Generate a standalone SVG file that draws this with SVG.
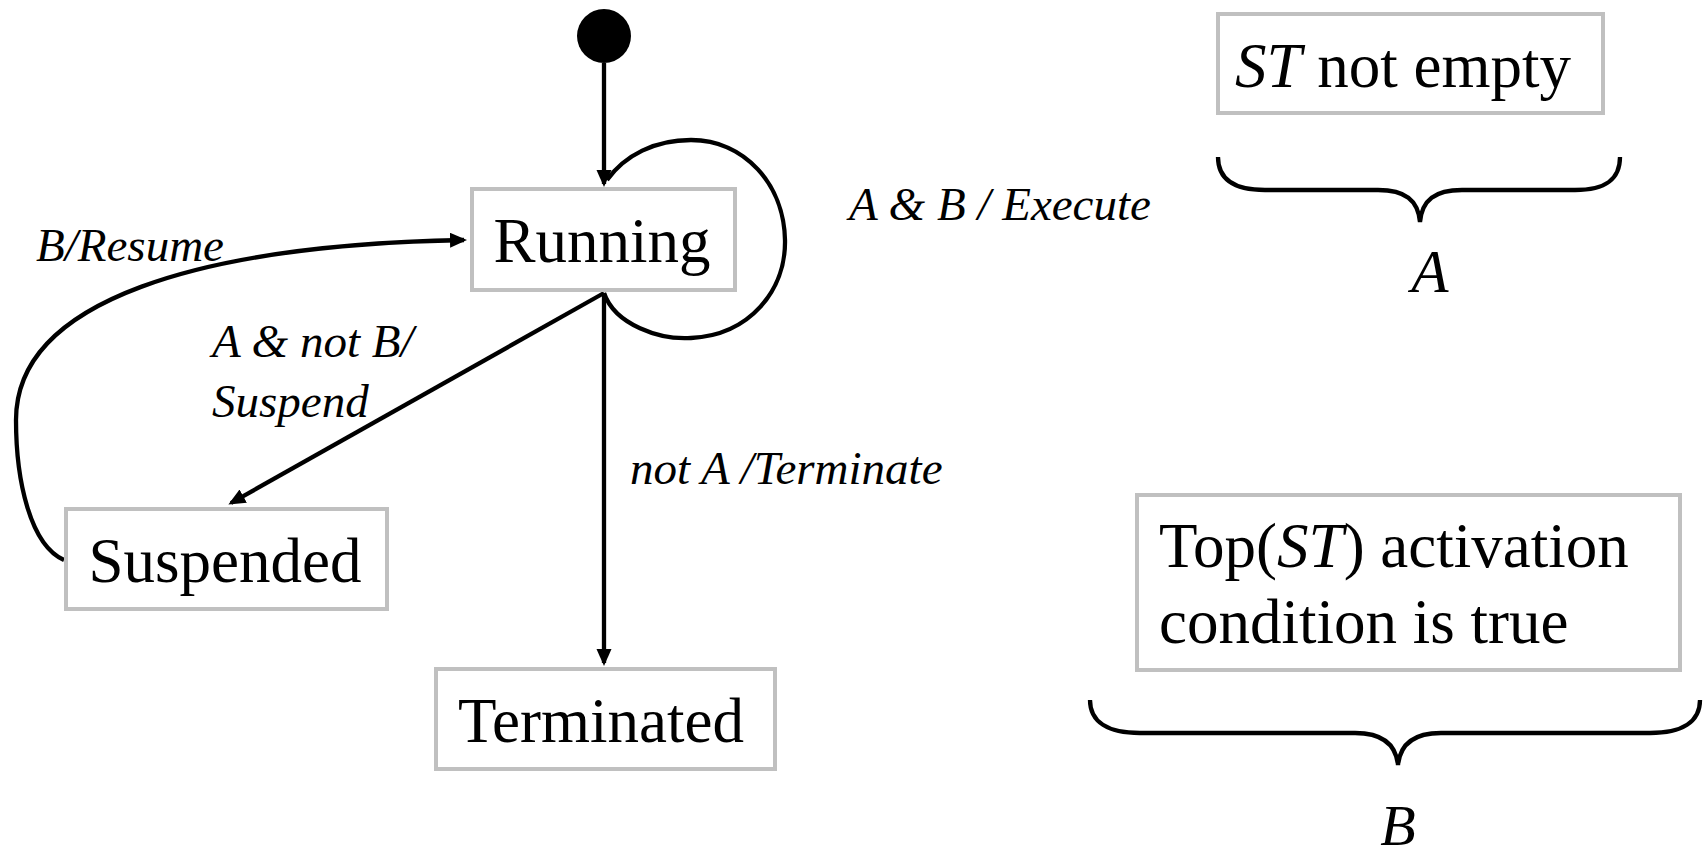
<svg xmlns="http://www.w3.org/2000/svg" width="1707" height="856" viewBox="0 0 1707 856">
<style>
.box{fill:#fff;stroke:#c0c0c0;stroke-width:4}
.nt{font-family:"Liberation Serif","Times New Roman",serif;font-size:63px;fill:#000}
.lbl{font-family:"Liberation Serif","Times New Roman",serif;font-size:47px;font-style:italic;fill:#000}
.edge{fill:none;stroke:#000;stroke-width:4.3}
.brace{fill:none;stroke:#000;stroke-width:4.3}
</style>
<defs>
<marker id="ah" markerUnits="userSpaceOnUse" markerWidth="19" markerHeight="16" refX="14" refY="7.5" orient="auto">
<path d="M0,0 L17,7.5 L0,15 z" fill="#000"/>
</marker>
</defs>
<rect width="1707" height="856" fill="#fff"/>
<g id="connectors">
<path class="edge" d="M604 63 L604 184" marker-end="url(#ah)"/>
<path class="edge" d="M604 293 C615 325,660 340,691 338 C750 335,786 290,785 240 C784 185,745 140,691 140 C655 140,625 155,607 180"/>
<path class="edge" d="M604 293 L231 503" marker-end="url(#ah)"/>
<path class="edge" d="M604 293 L604 663" marker-end="url(#ah)"/>
<path class="edge" d="M64 560 C30 545,16 480,16 420 C16 300,200 245,464 240" marker-end="url(#ah)"/>
</g>
<g id="initial"><circle cx="604" cy="36" r="27" fill="#000"/></g>
<g id="running">
<rect class="box" x="472" y="189" width="263" height="101"/>
<text class="nt" x="602" y="262" text-anchor="middle">Running</text>
</g>
<g id="suspended">
<rect class="box" x="66" y="509" width="321" height="100"/>
<text class="nt" x="225" y="582" text-anchor="middle">Suspended</text>
</g>
<g id="terminated">
<rect class="box" x="436" y="669" width="339" height="100"/>
<text class="nt" x="601" y="742" text-anchor="middle">Terminated</text>
</g>
<g id="labels">
<text class="lbl" x="849" y="220">A &amp; B / Execute</text>
<text class="lbl" x="36" y="261">B/Resume</text>
<text class="lbl" x="212" y="357">A &amp; not B/</text>
<text class="lbl" x="212" y="417">Suspend</text>
<text class="lbl" x="630" y="484">not A /Terminate</text>
</g>
<g id="cond-a">
<rect class="box" x="1218" y="14" width="385" height="99"/>
<text class="nt" x="1235" y="87"><tspan font-style="italic">ST</tspan> not empty</text>
<path class="brace" d="M1218 157 C1218 180,1235 190,1265 190 L1378 190 C1405 190,1418 200,1420 222 C1422 200,1435 190,1462 190 L1575 190 C1605 190,1620 180,1620 157"/>
<text class="nt" x="1430" y="292" text-anchor="middle" font-style="italic" style="font-size:61px">A</text>
</g>
<g id="cond-b">
<rect class="box" x="1137" y="495" width="543" height="175"/>
<text class="nt" x="1159" y="567">Top(<tspan font-style="italic">ST</tspan>) activation</text>
<text class="nt" x="1159" y="643">condition is true</text>
<path class="brace" d="M1090 700 C1090 722,1108 733,1140 733 L1355 733 C1383 733,1396 745,1398 765 C1400 745,1413 733,1441 733 L1650 733 C1682 733,1700 722,1700 700"/>
<text class="nt" x="1398" y="845" text-anchor="middle" font-style="italic" style="font-size:58px">B</text>
</g>
</svg>
